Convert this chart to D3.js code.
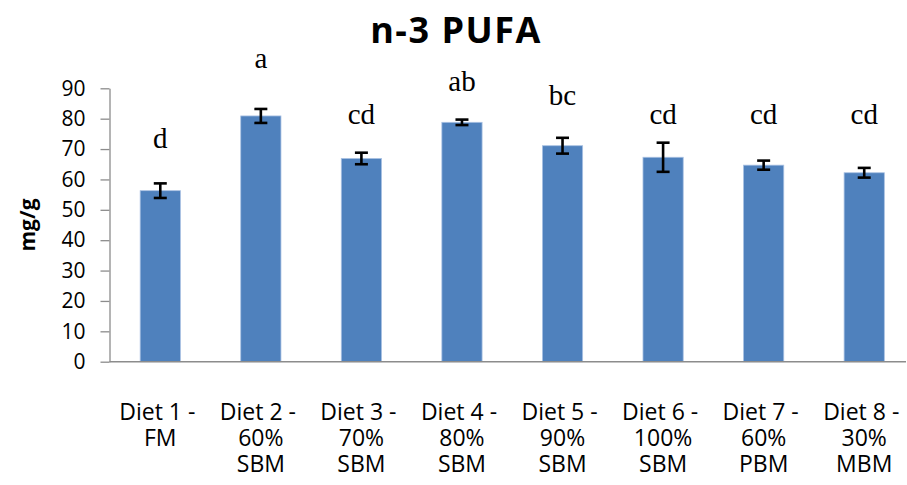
<!DOCTYPE html>
<html>
<head>
<meta charset="utf-8">
<script src="https://cdn.jsdelivr.net/npm/d3@7"></script>
<style>
  html, body { margin: 0; padding: 0; background: #fff; }
  svg { display: block; }
</style>
</head>
<body>
<svg id="chart" width="907" height="485"></svg>
<script>
// n-3 PUFA content per diet (mg/g), with standard error and significance letters
const diets = [
  ["Diet 1 -", "FM"],
  ["Diet 2 -", "60%", "SBM"],
  ["Diet 3 -", "70%", "SBM"],
  ["Diet 4 -", "80%", "SBM"],
  ["Diet 5 -", "90%", "SBM"],
  ["Diet 6 -", "100%", "SBM"],
  ["Diet 7 -", "60%", "PBM"],
  ["Diet 8 -", "30%", "MBM"]
];
const means  = [56.3, 80.9, 66.9, 78.8, 71.1, 67.3, 64.7, 62.2];
const errors = [2.4, 2.3, 1.9, 0.9, 2.6, 4.8, 1.5, 1.6];
const letters = ["d", "a", "cd", "ab", "bc", "cd", "cd", "cd"];
// height (mg/g) at which each significance letter sits
const letterAt = [70.2, 96.7, 78.1, 89.2, 84.5, 78.1, 78.1, 78.1];
const yTicks = [0, 10, 20, 30, 40, 50, 60, 70, 80, 90];

const svg = d3.select("#chart");
const sans = "'Open Sans', 'Liberation Sans', sans-serif";
const serif = "'Liberation Serif', 'DejaVu Serif', serif";

const x = d3.scaleBand()
  .domain(d3.range(diets.length))
  .range([110, 914.5])
  .paddingInner(0.6)
  .paddingOuter(0.3);

const y = d3.scaleLinear().domain([0, 90]).range([361.7, 88.3]);

// y axis
const yAxis = svg.append("g")
  .attr("transform", "translate(109.5,0)")
  .call(d3.axisLeft(y).tickValues(yTicks).tickSize(9).tickSizeOuter(0).tickPadding(15));
yAxis.select(".domain").attr("stroke", "#8c8c8c").attr("stroke-width", 1.3);
yAxis.selectAll(".tick line").attr("stroke", "#8c8c8c").attr("stroke-width", 1.3);
yAxis.selectAll(".tick text")
  .attr("font-family", sans).attr("font-size", 21).attr("fill", "#000");

// bars
svg.append("g").selectAll("rect")
  .data(means)
  .join("rect")
  .attr("x", (d, i) => x(i))
  .attr("y", d => y(d))
  .attr("width", x.bandwidth())
  .attr("height", d => y(0) - y(d))
  .attr("fill", "#4f81bd")
  .attr("stroke", "#a9c1e3")
  .attr("stroke-width", 0.8);

// x axis baseline
svg.append("line")
  .attr("x1", 109.5).attr("x2", 906)
  .attr("y1", y(0)).attr("y2", y(0))
  .attr("stroke", "#8c8c8c").attr("stroke-width", 1.6);

// error bars
const eb = svg.append("g").attr("stroke", "#000").attr("stroke-width", 2.6).attr("fill", "none");
means.forEach((m, i) => {
  const cx = x(i) + x.bandwidth() / 2;
  const top = y(m + errors[i]), bot = y(m - errors[i]);
  eb.append("line").attr("x1", cx).attr("x2", cx).attr("y1", top).attr("y2", bot);
  eb.append("line").attr("x1", cx - 6.5).attr("x2", cx + 6.5).attr("y1", top).attr("y2", top);
  eb.append("line").attr("x1", cx - 6.5).attr("x2", cx + 6.5).attr("y1", bot).attr("y2", bot);
});

// significance letters
svg.append("g").selectAll("text")
  .data(letters)
  .join("text")
  .attr("x", (d, i) => x(i) + x.bandwidth() / 2)
  .attr("y", (d, i) => y(letterAt[i]))
  .attr("text-anchor", "middle")
  .attr("font-family", serif)
  .attr("font-size", 29)
  .attr("fill", "#000")
  .text(d => d);

// category labels, one text element per line
const xl = svg.append("g");
diets.forEach((lines, i) => {
  const cx = x(i) + x.bandwidth() / 2;
  xl.selectAll(null)
    .data(lines)
    .join("text")
    .attr("x", cx)
    .attr("y", (d, j) => 420 + j * 25.8)
    .attr("text-anchor", "middle")
    .attr("font-family", sans)
    .attr("font-size", 23)
    .attr("fill", "#000")
    .text((d, j) => j === 0 ? d + "\u00a0" : d);
});

// y axis title
svg.append("text")
  .attr("transform", "translate(35,225) rotate(-90)")
  .attr("text-anchor", "middle")
  .attr("font-family", sans)
  .attr("font-weight", "bold")
  .attr("font-size", 21)
  .attr("fill", "#000")
  .text("mg/g");

// chart title
svg.append("text")
  .attr("x", 456)
  .attr("y", 43)
  .attr("text-anchor", "middle")
  .attr("font-family", sans)
  .attr("font-weight", "bold")
  .attr("font-size", 36)
  .attr("letter-spacing", 1.5)
  .attr("fill", "#000")
  .text("n-3 PUFA");
</script>
</body>
</html>
